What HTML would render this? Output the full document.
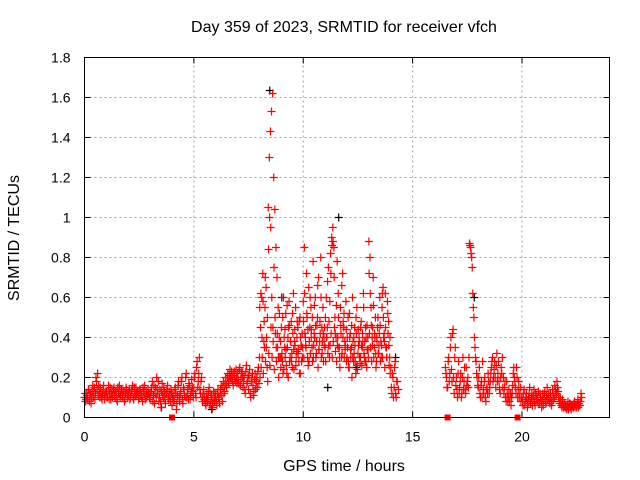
<!DOCTYPE html>
<html><head><meta charset="utf-8"><style>
body{margin:0;background:#fff;}
svg{display:block;font-family:"Liberation Sans",sans-serif;}
</style></head><body>
<svg id="chart" width="640" height="480" viewBox="0 0 640 480">
<text x="344" y="32" font-size="16" text-anchor="middle">Day 359 of 2023, SRMTID for receiver vfch</text>
<text x="344" y="471" font-size="16" text-anchor="middle">GPS time / hours</text>
<text x="19" y="238" font-size="16" text-anchor="middle" transform="rotate(-90 19 238)">SRMTID / TECUs</text>
<g id="grid"></g>
<g id="marks"></g>
<g id="axes"></g>
</svg>
<script>
const xTicks=[0,5,10,15,20];
const yTicks=[0,0.2,0.4,0.6,0.8,1,1.2,1.4,1.6,1.8];
const yTickLabels=["0","0.2","0.4","0.6","0.8","1","1.2","1.4","1.6","1.8"];
const seg1Start=0, seg1Step=0.05;
const seg1Values=[
.10,.08,.12,.09,.14,.11,.07,.13,.10,.15,.12,.18,.22,.16,.10,.13,.09,.14,.11,.12,
.13,.10,.16,.12,.09,.14,.11,.15,.10,.13,.08,.12,.16,.11,.14,.10,.13,.09,.15,.12,
.11,.14,.10,.13,.16,.09,.12,.15,.11,.13,.10,.14,.12,.08,.13,.16,.11,.10,.14,.12,
.09,.13,.18,.11,.07,.15,.20,.12,.08,.14,.05,.17,.10,.13,.07,.12,.16,.09,.11,.14,
.06,.12,.09,.15,.04,.11,.18,.08,.13,.20,.07,.14,.10,.22,.12,.09,.16,.11,.19,.13,
.15,.22,.10,.28,.18,.30,.12,.20,.08,.14,.10,.06,.12,.09,.15,.07,.11,.05,.13,.08,
.10,.06,.14,.09,.12,.16,.08,.18,.13,.20,.15,.22,.17,.24,.19,.21,.16,.23,.18,.20,
.22,.17,.25,.19,.23,.15,.21,.12,.26,.18,.14,.24,.10,.20,.16,.13,.22,.18,.15,.25,
.30,.45,.60,.72,.38,.55,.65,.25,1.05,1.30,1.43,1.53,1.62,1.20,1.04,.85,.70,.55,.40,.30,
.45,.28,.60,.35,.52,.22,.40,.58,.30,.48,.25,.62,.38,.55,.33,.45,.28,.50,.36,.42,
.58,.85,.40,.72,.30,.65,.45,.55,.35,.78,.42,.60,.32,.50,.70,.38,.80,.45,.55,.40,
.35,.60,.45,.75,.30,.82,.90,.95,.85,.50,.40,.78,.62,.35,.55,.30,.72,.45,.38,.58,
.30,.50,.25,.42,.35,.60,.28,.45,.22,.55,.32,.40,.27,.48,.35,.62,.30,.45,.25,.40,
.88,.80,.55,.40,.70,.35,.50,.28,.45,.32,.60,.38,.55,.65,.42,.62,.35,.58,.48,.30,
.25,.12,.20,.15,.28,.10,.18,.14];
const seg1bStart=0.025, seg1bStep=0.05;
const seg1bValues=[
.12,.09,.11,.14,.08,.12,.10,.16,.13,.09,.20,.14,.11,.12,.15,.10,.12,.16,.09,.13,
.10,.13,.09,.15,.12,.10,.14,.11,.13,.09,.15,.12,.10,.14,.11,.13,.08,.12,.14,.10,
.13,.09,.12,.14,.10,.15,.11,.12,.13,.09,.14,.11,.10,.15,.12,.09,.13,.11,.12,.10,
.12,.15,.08,.16,.12,.10,.14,.18,.10,.08,.13,.11,.15,.09,.12,.14,.10,.13,.08,.12,
.10,.08,.14,.12,.07,.16,.10,.12,.18,.09,.15,.11,.20,.10,.14,.17,.09,.13,.15,.10,
.20,.12,.25,.15,.22,.14,.18,.10,.12,.09,.07,.10,.08,.13,.06,.12,.09,.07,.10,.12,
.08,.12,.10,.07,.14,.11,.15,.12,.17,.16,.20,.18,.21,.20,.23,.18,.22,.19,.24,.17,
.19,.24,.16,.22,.20,.18,.14,.23,.17,.21,.20,.12,.18,.22,.11,.19,.14,.20,.23,.17,
.20,.25,.30,.22,.35,.28,.40,.18,.32,.26,.45,.30,.38,.24,.42,.28,.35,.20,.30,.25,
.32,.22,.40,.30,.26,.35,.45,.28,.38,.32,.42,.24,.36,.30,.48,.34,.22,.40,.28,.35,
.30,.42,.35,.50,.26,.38,.32,.44,.28,.36,.40,.30,.46,.25,.34,.42,.30,.38,.28,.45,
.28,.40,.32,.48,.36,.42,.30,.38,.45,.33,.28,.40,.35,.25,.42,.32,.48,.30,.36,.28,
.35,.25,.40,.30,.20,.38,.32,.28,.42,.24,.36,.30,.45,.26,.38,.32,.28,.40,.34,.30,
.42,.35,.28,.45,.30,.40,.25,.38,.32,.42,.28,.36,.30,.40,.25,.35,.30,.42,.26,.22,
.15,.22,.10,.25,.12,.18];
const seg1cStart=8.0125, seg1cStep=0.05;
const seg1cValues=[
.55,.62,.40,.58,.48,.70,.35,.50,.84,1.0,.95,.60,.45,.75,.50,.35,.42,.30,.52,.38,
.30,.50,.24,.44,.34,.56,.20,.46,.38,.28,.52,.34,.44,.26,.40,.32,.48,.22,.36,.30,
.48,.62,.36,.52,.44,.28,.60,.40,.50,.30,.56,.46,.38,.66,.34,.48,.60,.32,.42,.36,
.50,.40,.68,.36,.58,.72,.86,.88,.70,.42,.56,.36,.50,.30,.46,.66,.40,.52,.34,.44,
.40,.28,.52,.34,.46,.30,.40,.36,.50,.26,.44,.38,.30,.36,.42,.55,.38,.28,.46,.34,
.72,.62,.46,.36,.56,.42,.32,.40,.50,.36,.46,.30,.62,.50,.38,.45,.30,.52,.36,.40];
const seg2Start=16.5, seg2Step=0.05;
const seg2Values=[
.25,.20,.15,.30,.22,.40,.18,.44,.12,.35,
.20,.10,.28,.15,.22,.12,.30,.18,.14,.25,.18,.15,.87,.85,.80,.62,.50,.35,.28,.20,
.15,.25,.10,.18,.28,.12,.20,.08,.15,.22,.12,.18,.25,.30,.20,.28,.15,.32,.22,.18,
.12,.25,.30,.20,.15,.10,.18,.08,.14,.10,.06,.12,.22,.20,.15,.25,.10,.18,.12,.08,
.10,.06,.14,.08,.12,.05,.10,.15,.07,.12,.09,.14,.06,.11,.08,.13,.07,.10,.05,.12,
.09,.13,.07,.15,.10,.08,.12,.06,.14,.09,.16,.11,.18,.13,.08,.10,.06,.09,.05,.07,
.06,.04,.08,.05,.07,.04,.06,.05,.08,.06,.05,.09,.07,.06,.12];
const seg2bStart=16.525, seg2bStep=0.05;
const seg2bValues=[
.22,.15,.28,.18,.35,.24,.42,.20,.30,.16,
.14,.22,.12,.18,.10,.20,.14,.25,.12,.16,.20,.30,.86,.82,.75,.55,.40,.30,.22,.16,
.20,.12,.16,.10,.14,.18,.10,.14,.12,.18,.15,.22,.28,.18,.24,.20,.26,.18,.28,.14,
.20,.22,.15,.12,.18,.08,.12,.10,.08,.12,.10,.16,.25,.18,.12,.20,.14,.10,.15,.10,
.08,.12,.06,.10,.09,.07,.12,.08,.10,.06,.11,.08,.12,.09,.10,.07,.12,.08,.09,.06,
.12,.08,.11,.09,.12,.07,.10,.08,.12,.10,.14,.12,.15,.10,.07,.08,.05,.07,.06,.05,
.05,.06,.04,.07,.05,.06,.05,.07,.05,.06,.07,.05,.06,.08,.10];
const zeroTimes=[4.0,16.6,19.8];
const blackTimes=[8.45,11.6,9.0,11.1,3.5,5.8,14.2,10.5,12.4,17.8];
const blackValues=[1.635,1.0,0.6,0.15,0.05,0.04,0.3,0.4,0.25,0.6];

const X0=84.5,X1=609.5,Y0=417.5,Y1=57.5,XMAX=24,YMAX=1.8;
const xs=t=>X0+(X1-X0)*t/XMAX;
const ys=v=>Y0-(Y0-Y1)*v/YMAX;
const NS="http://www.w3.org/2000/svg";
function mk(tag,parent,attrs){const e=document.createElementNS(NS,tag);for(const k in attrs)e.setAttribute(k,attrs[k]);parent.appendChild(e);return e;}
const grid=document.getElementById('grid'),marks=document.getElementById('marks'),axes=document.getElementById('axes');
yTicks.forEach((v,i)=>{
  if(v>0&&v<YMAX){const g=mk('line',grid,{x1:X0,x2:X1,y1:ys(v),y2:ys(v),stroke:'#a0a0a0','stroke-dasharray':'2,3'});
  
  }
  const t=mk('text',axes,{x:X0-14,y:ys(v)+5,'font-size':'14','text-anchor':'end'});t.textContent=yTickLabels[i];
  
  
  mk('line',axes,{x1:X0,x2:X0+6,y1:ys(v),y2:ys(v),stroke:'#000'});
  mk('line',axes,{x1:X1-6,x2:X1,y1:ys(v),y2:ys(v),stroke:'#000'});
});
xTicks.forEach(v=>{
  if(v>0){const g=mk('line',grid,{x1:xs(v),x2:xs(v),y1:Y0,y2:Y1,stroke:'#a0a0a0','stroke-dasharray':'2,3'});
  
  }
  const t=mk('text',axes,{x:xs(v),y:Y0+24,'font-size':'14','text-anchor':'middle'});t.textContent=String(v);
  
  
  mk('line',axes,{x1:xs(v),x2:xs(v),y1:Y0,y2:Y0-6,stroke:'#000'});
  mk('line',axes,{x1:xs(v),x2:xs(v),y1:Y1,y2:Y1+6,stroke:'#000'});
});
const frame=mk('rect',axes,{x:X0,y:Y1,width:X1-X0,height:Y0-Y1,fill:'none',stroke:'#000'});


function plus(t,v,col){const x=xs(t),y=ys(v);
  const p=mk('path',marks,{d:`M${x-4} ${y}H${x+4}M${x} ${y-4}V${y+4}`,stroke:col,'stroke-width':'1.2',fill:'none'});
  
  }
blackTimes.forEach((t,i)=>plus(t+0.02,blackValues[i],'#000'));
[[seg1Start,seg1Step,seg1Values],[seg1bStart,seg1bStep,seg1bValues],[seg1cStart,seg1cStep,seg1cValues],[seg2Start,seg2Step,seg2Values],[seg2bStart,seg2bStep,seg2bValues]].forEach(([s,st,vals])=>{
  vals.forEach((v,i)=>plus(s+i*st,v,'#f00'));
});
zeroTimes.forEach(t=>{const r=mk('rect',marks,{x:xs(t)-3,y:ys(0)-3,width:6,height:6,fill:'#f00'});
  
  });
</script>
</body></html>
